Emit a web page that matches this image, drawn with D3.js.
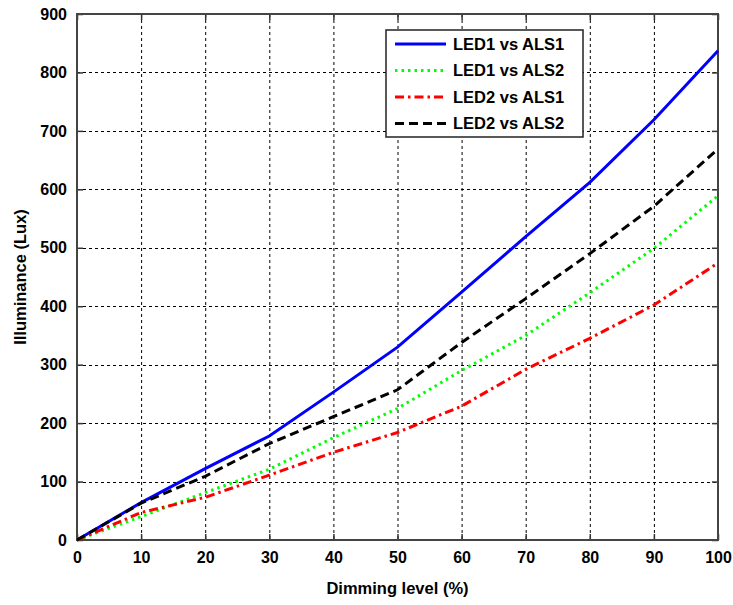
<!DOCTYPE html>
<html><head><meta charset="utf-8">
<script src="https://cdn.jsdelivr.net/npm/d3@7"></script>
<style>body{margin:0;background:#fff;} text{font-family:Arial,"Liberation Sans",sans-serif;font-weight:bold;}</style>
</head><body>
<svg id="c" width="733" height="605"></svg>
<script>
const dimming = [0,10,20,30,40,50,60,70,80,90,100];
const led1Als1 = [0,64,122,178,253,330,424,519,612,719,837];
const led1Als2 = [0,40,81,121,175,225,290,350,423,499,589];
const led2Als1 = [0,47,73,111,150,184,229,292,345,402,474];
const led2Als2 = [0,63,109,165,211,257,338,413,490,571,669];
const seriesNames = ["LED1 vs ALS1","LED1 vs ALS2","LED2 vs ALS1","LED2 vs ALS2"];
const xTicks = [0,10,20,30,40,50,60,70,80,90,100];
const yTicks = [0,100,200,300,400,500,600,700,800,900];

const styles = [
  {color:"#0000ff", dash:null},
  {color:"#00ff00", dash:"2.5,4"},
  {color:"#ff0000", dash:"9,4,2.5,4"},
  {color:"#000000", dash:"9,5"}
];
const allSeries = [led1Als1, led1Als2, led2Als1, led2Als2];

const svg = d3.select("#c");
const L=77, R=718, T=14, B=540;
const x = d3.scaleLinear().domain([0,100]).range([L,R]);
const y = d3.scaleLinear().domain([0,900]).range([B,T]);

// grid
const g = svg.append("g");
g.selectAll(".gx").data(xTicks.slice(1,-1)).enter().append("line")
  .attr("x1",d=>x(d)+0.5).attr("x2",d=>x(d)+0.5).attr("y1",T).attr("y2",B)
  .attr("stroke","#000").attr("stroke-width",1).attr("stroke-dasharray","3,3");
g.selectAll(".gy").data(yTicks.slice(1,-1)).enter().append("line")
  .attr("y1",d=>Math.round(y(d))+0.5).attr("y2",d=>Math.round(y(d))+0.5).attr("x1",L).attr("x2",R)
  .attr("stroke","#000").attr("stroke-width",1).attr("stroke-dasharray","3,3");

// axes with inward ticks
const ax = svg.append("g").attr("transform",`translate(0,${B})`)
  .call(d3.axisBottom(x).tickValues(xTicks).tickSize(-6).tickPadding(12));
const axT = svg.append("g").attr("transform",`translate(0,${T})`)
  .call(d3.axisTop(x).tickValues(xTicks).tickSize(-6).tickFormat(""));
const ay = svg.append("g").attr("transform",`translate(${L},0)`)
  .call(d3.axisLeft(y).tickValues(yTicks).tickSize(-6).tickPadding(10));
const ayR = svg.append("g").attr("transform",`translate(${R},0)`)
  .call(d3.axisRight(y).tickValues(yTicks).tickSize(-6).tickFormat(""));
[ax,axT,ay,ayR].forEach(a=>{
  a.select(".domain").remove();
  a.selectAll(".tick line").attr("stroke","#333").attr("stroke-width",1.5);
  a.selectAll("text").attr("font-size",16).attr("fill","#000");
});
ax.selectAll("text").attr("dy","0.71em");

// frame
svg.append("rect").attr("x",L).attr("y",T).attr("width",R-L).attr("height",B-T)
  .attr("fill","none").attr("stroke","#444").attr("stroke-width",2);

// lines
const line = d3.line().x((d,i)=>x(dimming[i])).y(d=>y(d));
allSeries.forEach((s,k)=>{
  svg.append("path").datum(s).attr("d",line).attr("fill","none")
    .attr("stroke",styles[k].color).attr("stroke-width",3)
    .attr("stroke-dasharray",styles[k].dash);
});

// legend
const lg = svg.append("g");
lg.append("rect").attr("x",386).attr("y",30).attr("width",197).attr("height",107)
  .attr("fill","#fff").attr("stroke","#222").attr("stroke-width",1.5);
seriesNames.forEach((n,k)=>{
  const yy = 44 + k*26.5;
  lg.append("line").attr("x1",395).attr("x2",446).attr("y1",yy).attr("y2",yy)
    .attr("stroke",styles[k].color).attr("stroke-width",3).attr("stroke-dasharray",styles[k].dash);
  lg.append("text").attr("x",453).attr("y",yy).attr("dy","0.35em").attr("font-size",16.5).text(n);
});

// axis titles
svg.append("text").attr("x",(L+R)/2).attr("y",594).attr("text-anchor","middle")
  .attr("font-size",16.5).text("Dimming level (%)");
svg.append("text").attr("transform",`translate(26,${(T+B)/2}) rotate(-90)`)
  .attr("text-anchor","middle").attr("font-size",16.5).text("Illuminance (Lux)");
</script>
</body></html>
